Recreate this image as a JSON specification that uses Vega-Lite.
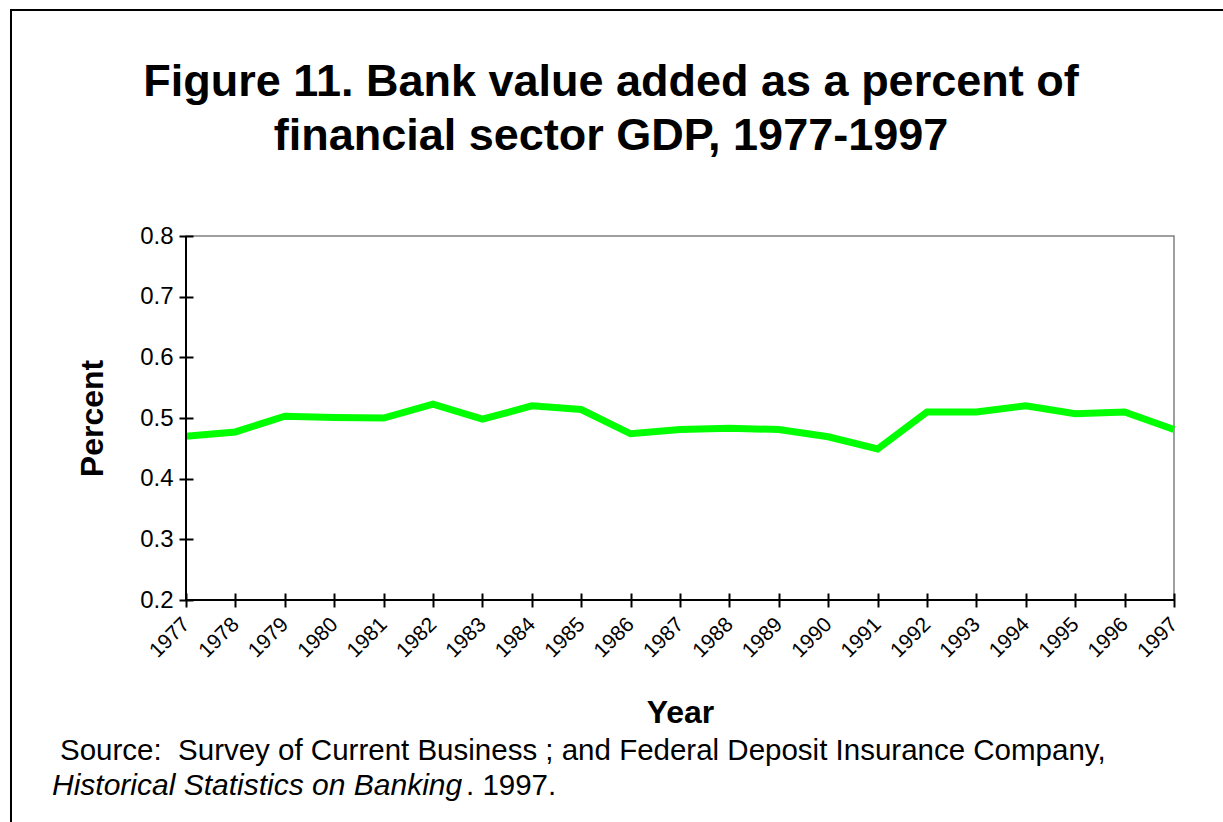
{
  "$schema": "https://vega.github.io/schema/vega-lite/v6.json",
  "width": 988,
  "height": 364,
  "autosize": {"type": "none"},
  "padding": {"left": 186, "top": 236, "right": 49, "bottom": 222},
  "background": "white",
  "config": {
    "font": "Liberation Sans",
    "view": {"stroke": "#808080", "strokeWidth": 1.5}
  },
  "data": {
    "values": [
      {"year": "1977", "value": 0.470},
      {"year": "1978", "value": 0.477},
      {"year": "1979", "value": 0.503},
      {"year": "1980", "value": 0.501},
      {"year": "1981", "value": 0.500},
      {"year": "1982", "value": 0.523},
      {"year": "1983", "value": 0.498},
      {"year": "1984", "value": 0.520},
      {"year": "1985", "value": 0.514},
      {"year": "1986", "value": 0.474},
      {"year": "1987", "value": 0.481},
      {"year": "1988", "value": 0.483},
      {"year": "1989", "value": 0.481},
      {"year": "1990", "value": 0.469},
      {"year": "1991", "value": 0.449},
      {"year": "1992", "value": 0.510},
      {"year": "1993", "value": 0.510},
      {"year": "1994", "value": 0.520},
      {"year": "1995", "value": 0.507},
      {"year": "1996", "value": 0.510},
      {"year": "1997", "value": 0.481}
    ]
  },
  "layer": [
    {
      "data": {"values": [{}]},
      "mark": {"type": "rect", "fill": null, "stroke": "black", "strokeWidth": 2},
      "encoding": {
        "x": {"value": -175},
        "x2": {"value": 1300},
        "y": {"value": -226},
        "y2": {"value": 800}
      }
    },
    {
      "mark": {"type": "line", "color": "#00FF00", "strokeWidth": 7},
      "encoding": {
        "x": {
          "field": "year",
          "type": "ordinal",
          "scale": {"type": "point", "padding": 0},
          "axis": {
            "title": "Year",
            "titleFont": "Liberation Sans",
            "titleFontSize": 32,
            "titleFontWeight": "bold",
            "titleColor": "black",
            "titlePadding": 36,
            "labelAngle": -45,
            "labelAlign": "right",
            "labelBaseline": "middle",
            "labelFontSize": 21,
            "labelColor": "black",
            "labelPadding": 14,
            "offset": -7,
            "tickSize": 14,
            "tickWidth": 2,
            "tickColor": "black",
            "domain": false,
            "grid": false
          }
        },
        "y": {
          "field": "value",
          "type": "quantitative",
          "scale": {"domain": [0.2, 0.8], "nice": false, "zero": false},
          "axis": {
            "title": "Percent",
            "titleFont": "Liberation Sans",
            "titleFontSize": 32,
            "titleFontWeight": "bold",
            "titleColor": "black",
            "titlePadding": 30,
            "values": [0.2, 0.3, 0.4, 0.5, 0.6, 0.7, 0.8],
            "format": ".1f",
            "labelFontSize": 24,
            "labelColor": "black",
            "labelPadding": 6,
            "offset": -7,
            "tickSize": 14,
            "tickWidth": 2,
            "tickColor": "black",
            "domain": false,
            "grid": false
          }
        }
      }
    },
    {
      "data": {"values": [{}]},
      "mark": {"type": "rule", "color": "black", "strokeWidth": 2},
      "encoding": {"y": {"datum": 0.2}}
    },
    {
      "data": {"values": [{}]},
      "mark": {"type": "rule", "color": "black", "strokeWidth": 2},
      "encoding": {"x": {"datum": "1977"}}
    },
    {
      "data": {"values": [{}]},
      "mark": {"type": "text", "align": "center", "baseline": "alphabetic", "fontSize": 45, "fontWeight": "bold", "color": "black"},
      "encoding": {
        "x": {"value": 425},
        "y": {"value": -140},
        "text": {"value": "Figure 11. Bank value added as a percent of"}
      }
    },
    {
      "data": {"values": [{}]},
      "mark": {"type": "text", "align": "center", "baseline": "alphabetic", "fontSize": 45, "fontWeight": "bold", "color": "black"},
      "encoding": {
        "x": {"value": 425},
        "y": {"value": -86},
        "text": {"value": "financial sector GDP, 1977-1997"}
      }
    },
    {
      "data": {"values": [{}]},
      "mark": {"type": "text", "align": "left", "baseline": "alphabetic", "fontSize": 29.5, "color": "black"},
      "encoding": {
        "x": {"value": -126},
        "y": {"value": 524},
        "text": {"value": "Source:\u00a0 Survey of Current Business ; and Federal Deposit Insurance Company,"}
      }
    },
    {
      "data": {"values": [{}]},
      "mark": {"type": "text", "align": "left", "baseline": "alphabetic", "fontSize": 30, "fontStyle": "italic", "color": "black"},
      "encoding": {
        "x": {"value": -134},
        "y": {"value": 559},
        "text": {"value": "Historical Statistics on Banking"}
      }
    },
    {
      "data": {"values": [{}]},
      "mark": {"type": "text", "align": "left", "baseline": "alphabetic", "fontSize": 29.5, "color": "black"},
      "encoding": {
        "x": {"value": 280},
        "y": {"value": 559},
        "text": {"value": ". 1997."}
      }
    }
  ]
}
